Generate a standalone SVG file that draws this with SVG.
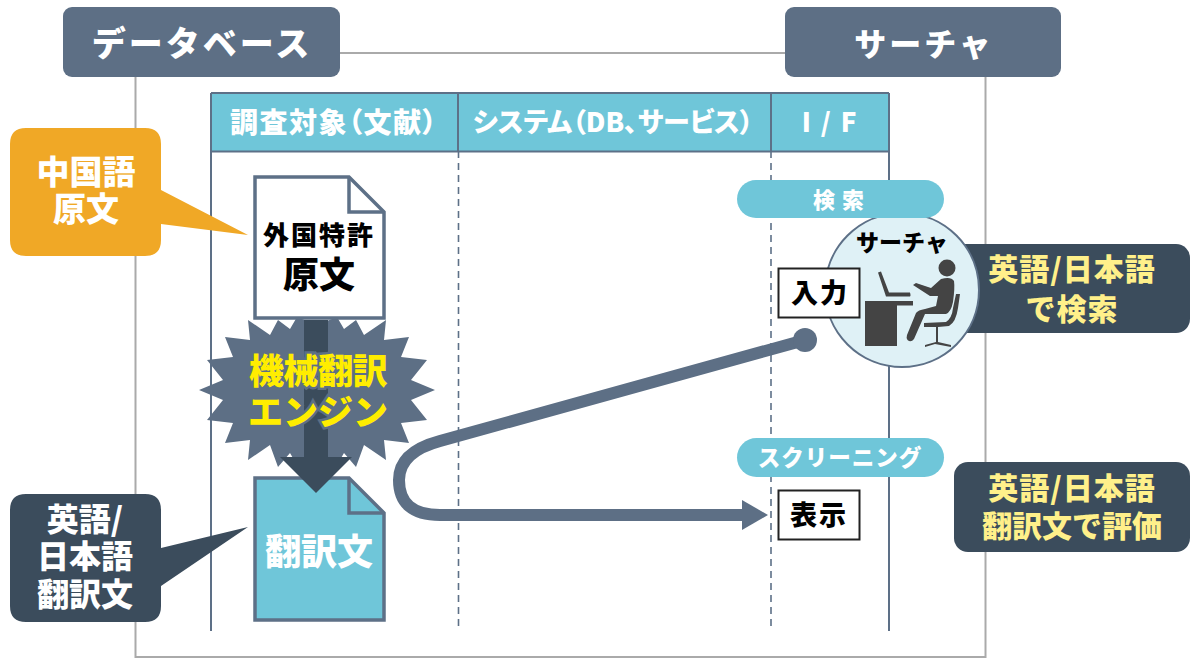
<svg xmlns="http://www.w3.org/2000/svg" width="1200" height="664" viewBox="0 0 1200 664">
<style>
text{font-family:"Noto Sans CJK JP","Noto Sans",sans-serif;font-weight:900;text-anchor:middle}
.p{font-feature-settings:"palt"}
.w{fill:#fff}.k{fill:#000}.y{fill:#fff08a}
.slate{fill:#5d6f85}.dark{fill:#3b4c5c}.cy{fill:#6fc6d9}
.ln{stroke:#5d7087;stroke-width:2;fill:none}
.dash{stroke:#5d7087;stroke-width:1.600;fill:none;stroke-dasharray:7 5}
.doc{stroke:#5d7087;stroke-width:3.500;stroke-linejoin:miter}
.btn{fill:#fff;stroke:#222;stroke-width:2}
.ic{fill:#444}
</style>
<g id="frame"><rect x="135.500" y="53" width="850" height="604" fill="#fff" stroke="#aaa" stroke-width="2"/></g>
<g id="table">
<rect x="211" y="93" width="678" height="58" class="cy"/>
<path class="ln" d="M211 93H889M211 151.500H889M211 93V631M889 93V631M458 93V151M771 93V151"/>
<path class="dash" d="M458.500 151V631M771 151V631"/>
<text class="w p" x="334" y="133" font-size="28" letter-spacing="1.500">調査対象（文献）</text>
<text class="w p" x="613" y="132" font-size="27" letter-spacing="0">システム（DB､サービス）</text>
<text class="w" x="830" y="132" font-size="26" letter-spacing="2">I / F</text>
</g>
<g id="title-db"><rect x="63" y="7" width="277" height="70" rx="9" class="slate"/><text class="w" x="202" y="56" font-size="34" letter-spacing="3">データベース</text></g>
<g id="title-searcher"><rect x="785" y="7" width="276" height="70" rx="9" class="slate"/><text class="w" x="924" y="56" font-size="32" letter-spacing="3">サーチャ</text></g>
<g id="note-source"><path d="M26 128H145Q161 128 161 144V190L248 235L161 224V240Q161 256 145 256H26Q10 256 10 240V144Q10 128 26 128Z" fill="#f0a826"/>
<text class="w" x="86" y="184" font-size="33">中国語</text><text class="w" x="86" y="221" font-size="33">原文</text></g>
<g id="note-translation"><path d="M26 494H145Q161 494 161 510V548L248 527L161 586V606Q161 622 145 622H26Q10 622 10 606V510Q10 494 26 494Z" class="dark"/>
<text class="w" x="85" y="531" font-size="32">英語/</text><text class="w" x="85" y="568" font-size="32">日本語</text><text class="w" x="85" y="606" font-size="32">翻訳文</text></g>
<g id="note-search"><rect x="950" y="244" width="240" height="89" rx="14" class="dark"/>
<text class="y" x="1072" y="280" font-size="30" letter-spacing="1">英語/日本語</text><text class="y" x="1072" y="320" font-size="30" letter-spacing="1">で検索</text></g>
<g id="note-eval"><rect x="954" y="462" width="236" height="90" rx="14" class="dark"/>
<text class="y" x="1072" y="499" font-size="30" letter-spacing="1">英語/日本語</text><text class="y" x="1072" y="537" font-size="30">翻訳文で評価</text></g>
<g id="searcher">
<circle cx="902" cy="290" r="77" fill="#dff1f6" stroke="#5d7087" stroke-width="2"/>
<text class="k" x="902" y="251" font-size="23">サーチャ</text>
<path class="ic" d="M865 301H913V305.500H897V346H865Z"/>
<path class="ic" d="M878 272.500L881 271.500L889 292.500H910Q911 296 910 296.500H886Z"/>
<circle class="ic" cx="947" cy="268" r="8.500"/>
<path class="ic" d="M913 285L916 283L931 288L941 279Q951 276 954 281Q955 288 953 302Q951 312 946 314L925 314L914 339Q911 343 907.500 340Q906 338 907 335L916 313Q918 310 925 309L936 306L938 296L930 296Z"/>
<path class="ic" d="M956 294L960 294L958 308Q956 322 949 326L938 327V342L951 345V347L935 344L925 347V345L936 342V327H924V323L946 322Q952 318 953 308Z"/>
</g>
<g id="pill-search"><rect x="737" y="180" width="207" height="38" rx="19" class="cy"/><text class="w" x="842" y="208" font-size="22" letter-spacing="7">検索</text></g>
<g id="btn-input"><rect x="778.500" y="268.500" width="81" height="49" class="btn"/><text class="k" x="820" y="303" font-size="27" letter-spacing="2">入力</text></g>
<g id="pill-screening"><rect x="737" y="438" width="207" height="39" rx="19.500" class="cy"/><text class="w" x="840" y="466" font-size="22.500" letter-spacing="1">スクリーニング</text></g>
<g id="btn-display"><rect x="778.500" y="490.500" width="81" height="49" class="btn"/><text class="k" x="819" y="525" font-size="27" letter-spacing="2">表示</text></g>
<g id="engine">
<polygon class="slate" points="199,390 223,380 207,360 233,357 225,337 250,340 248,320 270,335 278,320 290,329 297,317 317,325 337,317 344,329 356,320 364,335 386,320 384,340 409,337 401,357 427,360 411,380 435,390 411,400 427,420 401,423 409,443 384,440 386,460 364,445 356,467 344,453 337,465 317,455 297,465 290,453 278,467 270,445 248,460 250,440 225,443 233,423 207,420 223,400"/>
</g>
<g id="doc-source"><path class="doc" fill="#fff" d="M255 177H349L384 212V318H255Z"/><path class="doc" fill="none" d="M349 177V212H384"/>
<text class="k" x="319" y="245" font-size="26" letter-spacing="2">外国特許</text><text class="k" x="319" y="288" font-size="36">原文</text></g>
<g id="doc-translation"><path class="doc cy" d="M255 478H349L384 513V620H255Z"/><path class="doc" fill="none" d="M349 478V513H384"/>
<text class="w" x="319" y="565" font-size="36">翻訳文</text></g>
<g id="connectors">
<path class="dark" d="M304 320H328V457H352L316 493L280 457H304Z"/>
<path d="M805 340L440 441Q399 452 399 480Q399 515 440 515H745" fill="none" stroke="#5d6f85" stroke-width="12"/>
<circle cx="805" cy="340" r="12" class="slate"/>
<polygon class="slate" points="742,500 768,515 742,530"/>
</g>
<g id="engine-label" stroke="#5d6f85" stroke-width="5" paint-order="stroke">
<text x="318" y="384" font-size="35" fill="#ffed00" letter-spacing="-0.500">機械翻訳</text>
<text x="318" y="425" font-size="35" fill="#ffed00">エンジン</text>
</g>
</svg>
